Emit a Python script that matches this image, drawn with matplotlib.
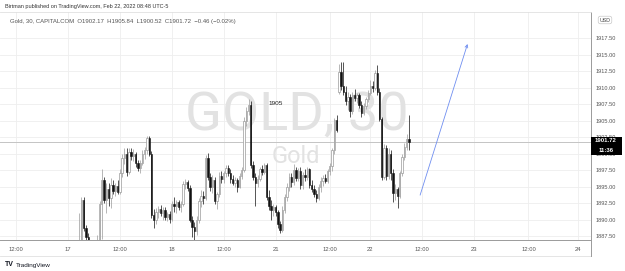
import matplotlib
matplotlib.use("Agg")
import matplotlib.pyplot as plt
from matplotlib.patches import Rectangle
from matplotlib.lines import Line2D
import numpy as np

plt.rcParams['font.family'] = ['Liberation Sans', 'DejaVu Sans']

# ---------------- data (30-min bars, index 0 = Feb 17 00:00) ----------------
first_bar = 5
opens = [1885.0, 1886.5, 1893.0, 1888.7, 1887.4, 1885.2, 1884.5, 1885.6, 1885.0, 1886.9,
         1892.3, 1896.0, 1893.0, 1894.6, 1893.2, 1895.3, 1894.4, 1895.1, 1894.2, 1897.0,
         1899.3, 1899.9, 1897.2, 1900.3, 1899.6, 1900.0, 1898.6, 1897.8, 1898.6, 1900.0,
         1900.5, 1902.3, 1900.0, 1890.7, 1890.0, 1891.2, 1891.6, 1891.0, 1891.5, 1890.4,
         1890.9, 1890.1, 1892.3, 1892.0, 1892.6, 1891.9, 1892.4, 1895.4, 1895.7, 1894.8,
         1890.0, 1888.8, 1888.2, 1890.0, 1892.8, 1893.6, 1893.2, 1899.4, 1896.4, 1894.9,
         1896.0, 1892.8, 1893.8, 1896.6, 1896.2, 1897.0, 1897.8, 1897.0, 1896.1, 1895.6,
         1896.0, 1895.0, 1896.6, 1897.5, 1905.0, 1906.5, 1907.3, 1898.3, 1896.5, 1895.6,
         1896.2, 1897.6, 1897.2, 1898.2, 1893.4, 1892.0, 1891.4, 1891.9, 1891.1, 1889.4,
         1888.4, 1891.5, 1893.4, 1895.0, 1896.4, 1895.7, 1897.5, 1896.3, 1897.4, 1895.2,
         1896.8, 1896.4, 1897.6, 1895.2, 1894.6, 1893.9, 1893.2, 1894.9, 1895.9, 1896.3,
         1895.9, 1897.3, 1898.1, 1900.5, 1905.1, 1909.4, 1912.3, 1910.2, 1909.4, 1907.9,
         1908.6, 1906.4, 1908.9, 1908.4, 1908.9, 1907.4, 1906.2, 1907.2, 1908.2, 1909.2,
         1910.3, 1909.9, 1912.2, 1909.4, 1905.3, 1896.5, 1900.8, 1896.6, 1899.9, 1897.0,
         1894.0, 1894.6, 1893.6, 1897.0, 1899.5, 1901.0, 1902.17]
highs = [1891.0, 1893.4, 1893.4, 1889.2, 1888.0, 1886.5, 1886.2, 1886.6, 1887.6, 1892.8,
         1897.7, 1896.5, 1895.5, 1895.6, 1896.3, 1896.0, 1895.6, 1896.0, 1897.6, 1900.0,
         1900.8, 1900.9, 1900.8, 1900.9, 1900.7, 1900.3, 1899.0, 1899.0, 1900.6, 1901.0,
         1902.7, 1902.7, 1900.4, 1891.6, 1891.8, 1892.0, 1892.2, 1891.9, 1891.9, 1891.2,
         1891.3, 1892.8, 1893.4, 1893.0, 1893.0, 1892.8, 1895.8, 1896.1, 1896.0, 1895.2,
         1890.6, 1889.6, 1890.5, 1893.2, 1894.5, 1894.4, 1899.8, 1900.1, 1897.0, 1896.8,
         1896.5, 1894.2, 1897.2, 1897.4, 1897.4, 1898.2, 1898.3, 1897.6, 1896.8, 1896.4,
         1896.3, 1897.0, 1898.0, 1905.5, 1907.0, 1908.2, 1908.0, 1898.8, 1897.0, 1896.8,
         1898.0, 1898.3, 1898.6, 1898.5, 1894.5, 1893.0, 1892.3, 1892.2, 1891.4, 1889.8,
         1892.0, 1893.8, 1895.6, 1897.0, 1897.0, 1898.4, 1897.9, 1897.8, 1897.9, 1897.2,
         1897.6, 1898.0, 1897.8, 1896.0, 1895.2, 1894.5, 1895.4, 1896.4, 1896.8, 1896.9,
         1897.6, 1898.5, 1900.9, 1905.4, 1905.8, 1913.6, 1913.9, 1913.9, 1910.2, 1909.3,
         1909.0, 1909.4, 1909.8, 1909.2, 1909.1, 1907.9, 1907.6, 1908.6, 1909.6, 1911.1,
         1911.0, 1912.6, 1913.4, 1909.9, 1905.6, 1901.4, 1901.3, 1900.9, 1900.6, 1897.6,
         1895.4, 1895.0, 1897.4, 1899.9, 1901.6, 1903.0, 1905.84]
lows = [1884.0, 1886.0, 1888.2, 1885.8, 1884.5, 1883.8, 1883.5, 1884.2, 1884.6, 1886.2,
        1887.0, 1892.5, 1891.0, 1892.0, 1891.8, 1893.8, 1893.6, 1893.9, 1893.8, 1896.5,
        1898.4, 1896.6, 1896.9, 1899.0, 1898.8, 1898.0, 1897.3, 1897.0, 1898.2, 1899.2,
        1900.0, 1899.6, 1890.3, 1888.7, 1889.4, 1890.3, 1890.6, 1890.0, 1890.0, 1889.8,
        1889.5, 1889.8, 1891.2, 1891.0, 1891.5, 1891.2, 1892.0, 1894.6, 1894.3, 1889.6,
        1887.3, 1886.0, 1887.6, 1889.5, 1891.9, 1892.3, 1893.0, 1896.0, 1894.4, 1894.0,
        1892.3, 1891.6, 1893.4, 1895.6, 1895.5, 1896.5, 1896.6, 1895.6, 1895.2, 1895.0,
        1894.2, 1894.8, 1896.2, 1897.2, 1904.2, 1905.8, 1897.8, 1896.0, 1892.0, 1895.0,
        1895.8, 1896.8, 1896.9, 1893.0, 1891.5, 1889.9, 1890.6, 1890.6, 1888.7, 1888.0,
        1888.1, 1891.0, 1892.8, 1894.4, 1895.0, 1895.2, 1895.8, 1895.8, 1894.6, 1894.6,
        1895.9, 1896.0, 1894.8, 1894.1, 1893.4, 1892.6, 1892.9, 1894.2, 1895.1, 1895.5,
        1895.6, 1896.8, 1897.3, 1900.0, 1903.2, 1909.0, 1909.6, 1908.9, 1907.3, 1906.6,
        1905.5, 1906.0, 1907.9, 1907.6, 1906.9, 1905.6, 1905.9, 1906.8, 1907.8, 1908.9,
        1909.4, 1909.6, 1908.9, 1904.9, 1896.0, 1896.1, 1896.0, 1896.2, 1896.0, 1892.6,
        1893.0, 1891.7, 1893.2, 1896.6, 1899.0, 1900.6, 1900.52]
closes = [1886.5, 1893.0, 1888.7, 1887.4, 1885.2, 1884.5, 1885.6, 1885.0, 1886.9, 1892.3,
          1896.0, 1893.0, 1894.6, 1893.2, 1895.3, 1894.4, 1895.1, 1894.2, 1897.0, 1899.3,
          1899.9, 1897.2, 1900.3, 1899.6, 1900.0, 1898.6, 1897.8, 1898.6, 1900.0, 1900.5,
          1902.3, 1900.0, 1890.7, 1890.0, 1891.2, 1891.6, 1891.0, 1891.5, 1890.4, 1890.9,
          1890.1, 1892.3, 1892.0, 1892.6, 1891.9, 1892.4, 1895.4, 1895.7, 1894.8, 1890.0,
          1888.8, 1888.2, 1890.0, 1892.8, 1893.6, 1893.2, 1899.4, 1896.4, 1894.9, 1896.0,
          1892.8, 1893.8, 1896.6, 1896.2, 1897.0, 1897.8, 1897.0, 1896.1, 1895.6, 1896.0,
          1895.0, 1896.6, 1897.5, 1905.0, 1906.5, 1907.3, 1898.3, 1896.5, 1895.6, 1896.2,
          1897.6, 1897.2, 1898.2, 1893.4, 1892.0, 1891.4, 1891.9, 1891.1, 1889.4, 1888.4,
          1891.5, 1893.4, 1895.0, 1896.4, 1895.7, 1897.5, 1896.3, 1897.4, 1895.2, 1896.8,
          1896.4, 1897.6, 1895.2, 1894.6, 1893.9, 1893.2, 1894.9, 1895.9, 1896.3, 1895.9,
          1897.3, 1898.1, 1900.5, 1905.1, 1903.6, 1912.3, 1910.2, 1909.4, 1907.9, 1908.6,
          1906.4, 1908.9, 1908.4, 1908.9, 1907.4, 1906.2, 1907.2, 1908.2, 1909.2, 1910.3,
          1909.9, 1912.2, 1909.4, 1905.3, 1896.5, 1900.8, 1896.6, 1899.9, 1897.0, 1894.0,
          1894.6, 1893.6, 1897.0, 1899.5, 1901.0, 1902.2, 1901.72]

time_tick_pos = [-23, 0, 23, 46, 69, 92, 116, 134, 157, 180, 204, 226]
time_tick_labels = ['12:00', '17', '12:00', '18', '12:00', '21', '12:00', '22',
                    '12:00', '23', '12:00', '24']
price_ticks = [1887.5, 1890.0, 1892.5, 1895.0, 1897.5, 1900.0, 1902.5, 1905.0,
               1907.5, 1910.0, 1912.5, 1915.0, 1917.5]
last_price = 1901.72
note_text = '1905'
note_pos = (92, 1907.6)
arrow_start = (156, 1893.7)
arrow_end = (177, 1916.6)
header = 'Birtman published on TradingView.com, Feb 22, 2022 08:48 UTC-5'
legend_line = 'Gold, 30, CAPITALCOM  O1902.17  H1905.84  L1900.52  C1901.72  \u22120.46 (\u22120.02%)'

# ---------------- figure ----------------
W, H = 625, 271
fig = plt.figure(figsize=(W / 100, H / 100), dpi=100)
fig.patch.set_facecolor('white')
ax_l, ax_r, ax_t, ax_b = 0, 591, 12, 240
ax = fig.add_axes([ax_l / W, 1 - ax_b / H, (ax_r - ax_l) / W, (ax_b - ax_t) / H])
ax.set_xlim(-30.1, 231.7)
ax.set_ylim(1886.9, 1921.45)

# grid
for p in price_ticks:
    ax.axhline(p, color='#eeeeee', lw=0.6, zorder=0)
for t in time_tick_pos:
    ax.axvline(t, color='#eeeeee', lw=0.6, zorder=0)

# watermark
wm_fam = ['Roboto', 'Liberation Sans', 'DejaVu Sans']
ax.text(101.5, 1903.6, 'GOLD, 30', ha='center', va='baseline', fontsize=39,
        color='#e2e2e2', family=wm_fam, zorder=0.5)
ax.text(101, 1898.6, 'Gold', ha='center', va='baseline', fontsize=17,
        color='#e2e2e2', family=wm_fam, zorder=0.5)

# candles
o = np.array(opens); h = np.array(highs); l = np.array(lows); c = np.array(closes)
x = np.arange(first_bar, first_bar + len(o))
up = c >= o
up_col, dn_col = '#9a9a9a', '#111111'
ax.vlines(x[up], l[up], h[up], color=up_col, lw=0.5, zorder=2)
ax.vlines(x[~up], l[~up], h[~up], color=dn_col, lw=0.5, zorder=2)
bh = np.maximum(np.abs(c - o), 0.12)
ax.bar(x[up], bh[up], bottom=np.minimum(o, c)[up], width=0.6, color='white',
       edgecolor=up_col, linewidth=0.5, zorder=3)
ax.bar(x[~up], bh[~up], bottom=np.minimum(o, c)[~up], width=0.6, color=dn_col,
       edgecolor=dn_col, linewidth=0.4, zorder=3)

# last price line
ax.axhline(last_price, color='#c4c4c4', lw=0.7, zorder=1)

# annotation & arrow
ax.text(*note_pos, note_text, ha='center', va='center', fontsize=4.6, color='#222222', zorder=5)
ax.annotate('', xy=arrow_end, xytext=arrow_start,
            arrowprops=dict(arrowstyle='->', color='#6f8ef0', lw=0.6,
                            shrinkA=0, shrinkB=0, mutation_scale=5), zorder=5)

# axes styling
for s in ['left', 'bottom']:
    ax.spines[s].set_visible(False)
ax.spines['right'].set_color('#9a9a9a')
ax.spines['right'].set_linewidth(0.7)
ax.spines['top'].set_color('#e0e0e0')
ax.spines['top'].set_linewidth(0.6)
ax.yaxis.tick_right()
ax.set_yticks(price_ticks)
ax.set_yticklabels(['%.2f' % p for p in price_ticks])
ax.tick_params(axis='y', length=0, pad=3, labelsize=4.1, labelcolor='#555555')
ax.set_xticks(time_tick_pos)
ax.set_xticklabels(time_tick_labels)
ax.tick_params(axis='x', length=0, pad=5, labelsize=4.2, labelcolor='#555555')

# axis frame lines (time axis)
fig.add_artist(Line2D([0, ax_r / W], [1 - 240 / H, 1 - 240 / H], color='#9a9a9a', lw=0.7))
fig.add_artist(Line2D([0, ax_r / W], [1 - 256 / H, 1 - 256 / H], color='#e0e0e0', lw=0.6))
fig.add_artist(Line2D([ax_r / W, ax_r / W], [1 - 256 / H, 1 - 240 / H], color='#9a9a9a', lw=0.7))

# header texts
fig.text(5 / W, 1 - 6.5 / H, header, fontsize=4.0, color='#333333', va='center', ha='left')
fig.text(10 / W, 1 - 22 / H, legend_line, fontsize=4.3, color='#555555', va='center', ha='left')

# USD box
fig.text(605 / W, 1 - 20 / H, 'USD', fontsize=3.8, color='#444444', ha='center', va='center',
         bbox=dict(boxstyle='round,pad=0.25,rounding_size=0.4', fc='white', ec='#bbbbbb', lw=0.4))

# last price label box
fig.add_artist(Rectangle((591 / W, 1 - 155 / H), 31 / W, 18 / H, facecolor='#000000',
                         edgecolor='none', zorder=10))
fig.text(606 / W, 1 - 141 / H, '%.2f' % last_price, fontsize=4.3, color='white',
         ha='center', va='center', zorder=11, weight='bold')
fig.text(606 / W, 1 - 150 / H, '11:36', fontsize=4.3, color='white',
         ha='center', va='center', zorder=11, weight='bold')

# TradingView footer
fig.text(5 / W, 1 - 265 / H, 'TV', fontsize=5, color='#131722', weight='bold', ha='left', va='center')
fig.text(16 / W, 1 - 265 / H, 'TradingView', fontsize=4.6, color='#131722', ha='left', va='center')

fig.savefig('out.png', dpi=100, facecolor='white')
